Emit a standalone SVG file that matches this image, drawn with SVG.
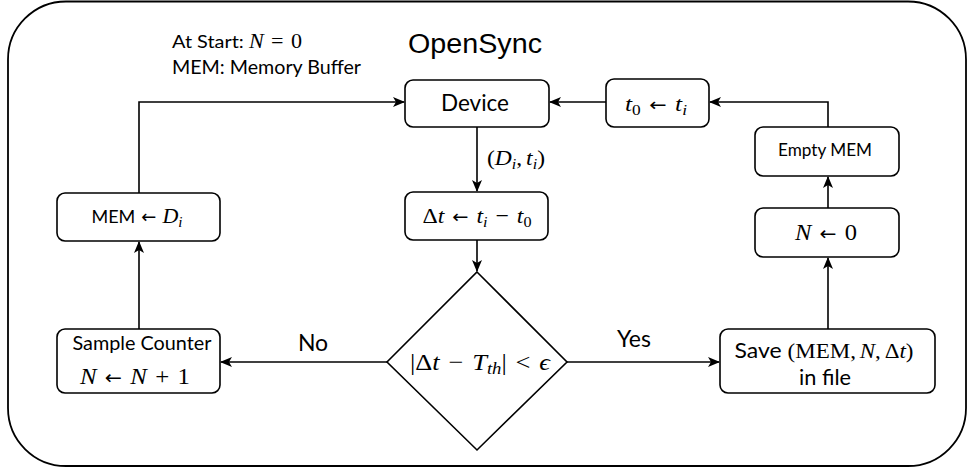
<svg xmlns="http://www.w3.org/2000/svg" width="969" height="472" viewBox="0 0 969 472">
<defs>
<marker id="ah" markerWidth="12" markerHeight="10" refX="11" refY="5" orient="auto" markerUnits="userSpaceOnUse">
<path d="M0,0 L12,5 L0,10 L3,5 z" fill="#000"/>
</marker>
<style>
.box{fill:#fff;stroke:#000;stroke-width:1.6}
.frame{fill:none;stroke:#000;stroke-width:1.8}
.con{fill:none;stroke:#000;stroke-width:1.6;marker-end:url(#ah)}
.lbl{font-family:Lato,"Liberation Sans",sans-serif;fill:#000}
.m{font-family:"Liberation Serif","DejaVu Serif",serif;fill:#000}
.i{font-style:italic}
.c{text-anchor:middle}
.ar{font-family:"DejaVu Sans",sans-serif;font-style:normal}
</style>
</defs>
<rect class="frame" x="8" y="1.5" width="958" height="464.5" rx="58" ry="58"/>
<g id="title">
<text class="c" x="475" y="53" font-family="'Liberation Sans',Arial,sans-serif" font-size="27" textLength="134" lengthAdjust="spacingAndGlyphs">OpenSync</text>
</g>
<g id="notes">
<text class="lbl" x="172" y="48" font-size="18" textLength="130" lengthAdjust="spacingAndGlyphs">At Start: <tspan class="m i" font-size="20">N</tspan><tspan class="m" font-size="20">&#8196;=&#8196;0</tspan></text>
<text class="lbl" x="172" y="74" font-size="19" textLength="189" lengthAdjust="spacingAndGlyphs">MEM: Memory Buffer</text>
</g>
<g id="connectors">
<path class="con" d="M477,127 L477,191"/>
<path class="con" d="M477,240 L477,271"/>
<path class="con" d="M387,362 L221,362"/>
<path class="con" d="M139,329 L139,242"/>
<path class="con" d="M139,193 L139,102 L404,102"/>
<path class="con" d="M567,362 L719,362"/>
<path class="con" d="M828,329 L828,258"/>
<path class="con" d="M828,208 L828,177"/>
<path class="con" d="M828,127 L828,102 L710,102"/>
<path class="con" d="M606,102 L550,102"/>
</g>
<g id="edge-labels">
<text class="m c" x="516" y="165" font-size="22" textLength="58" lengthAdjust="spacingAndGlyphs">(<tspan class="i">D</tspan><tspan class="i" font-size="15" dy="4">i</tspan><tspan dy="-4">,&#8198;</tspan><tspan class="i">t</tspan><tspan class="i" font-size="15" dy="4">i</tspan><tspan dy="-4">)</tspan></text>
<text class="lbl c" x="313" y="351" font-size="23">No</text>
<text class="lbl c" x="634" y="347" font-size="23">Yes</text>
</g>
<g id="device">
<rect class="box" x="405" y="80" width="144" height="47" rx="8"/>
<text class="lbl c" x="475" y="111" font-size="23" textLength="68" lengthAdjust="spacingAndGlyphs">Device</text>
</g>
<g id="delta">
<rect class="box" x="405" y="192" width="143" height="48" rx="8"/>
<text class="m c" x="477" y="223" font-size="22" textLength="109" lengthAdjust="spacingAndGlyphs">Δ<tspan class="i">t</tspan>&#8196;<tspan class="ar" font-size="18">←</tspan>&#8196;<tspan class="i">t</tspan><tspan class="i" font-size="15" dy="4">i</tspan><tspan dy="-4">&#8196;−&#8196;</tspan><tspan class="i">t</tspan><tspan font-size="15" dy="4">0</tspan></text>
</g>
<g id="decision">
<polygon class="box" points="477,272 567,362 477,450 387,362"/>
<text class="m c" x="480" y="370" font-size="24" textLength="140" lengthAdjust="spacingAndGlyphs">|Δ<tspan class="i">t</tspan>&#8196;−&#8196;<tspan class="i">T</tspan><tspan class="i" font-size="17" dy="4">th</tspan><tspan dy="-4">|&#8196;&lt;&#8196;</tspan><tspan class="i">ϵ</tspan></text>
</g>
<g id="counter">
<rect class="box" x="57" y="329" width="163" height="64" rx="8"/>
<text class="lbl c" x="142" y="350" font-size="20" textLength="139" lengthAdjust="spacingAndGlyphs">Sample Counter</text>
<text class="m c" x="135" y="384" font-size="23" textLength="110" lengthAdjust="spacingAndGlyphs"><tspan class="i">N</tspan>&#8196;<tspan class="ar" font-size="19">←</tspan>&#8196;<tspan class="i">N</tspan>&#8196;+&#8196;1</text>
</g>
<g id="mem">
<rect class="box" x="57" y="193" width="163" height="48" rx="8"/>
<text class="c" x="137" y="223" font-size="18" textLength="91" lengthAdjust="spacingAndGlyphs"><tspan class="lbl">MEM&#8196;</tspan><tspan class="ar" font-size="18">←</tspan><tspan class="m">&#8196;</tspan><tspan class="m i" font-size="22">D</tspan><tspan class="m i" font-size="15" dy="4">i</tspan></text>
</g>
<g id="t0">
<rect class="box" x="606" y="79" width="103" height="48" rx="8"/>
<text class="m c" x="656" y="111" font-size="22" textLength="62" lengthAdjust="spacingAndGlyphs"><tspan class="i">t</tspan><tspan font-size="15" dy="4">0</tspan><tspan dy="-4">&#8196;</tspan><tspan class="ar" font-size="18">←</tspan>&#8196;<tspan class="i">t</tspan><tspan class="i" font-size="15" dy="4">i</tspan></text>
</g>
<g id="empty">
<rect class="box" x="755" y="127" width="144" height="49" rx="8"/>
<text class="lbl c" x="825" y="156" font-size="17" textLength="94" lengthAdjust="spacingAndGlyphs">Empty MEM</text>
</g>
<g id="reset">
<rect class="box" x="755" y="208" width="144" height="49" rx="8"/>
<text class="m c" x="826" y="240" font-size="23" textLength="62" lengthAdjust="spacingAndGlyphs"><tspan class="i">N</tspan>&#8196;<tspan class="ar" font-size="19">←</tspan>&#8196;0</text>
</g>
<g id="save">
<rect class="box" x="720" y="329" width="215" height="64" rx="8"/>
<text class="c" x="824" y="358" font-size="22" textLength="179" lengthAdjust="spacingAndGlyphs"><tspan class="lbl">Save </tspan><tspan class="m">(MEM,&#8198;</tspan><tspan class="m i">N</tspan><tspan class="m">,&#8198;Δ</tspan><tspan class="m i">t</tspan><tspan class="m">)</tspan></text>
<text class="lbl c" x="825" y="385" font-size="22" textLength="52" lengthAdjust="spacingAndGlyphs">in file</text>
</g>
</svg>
